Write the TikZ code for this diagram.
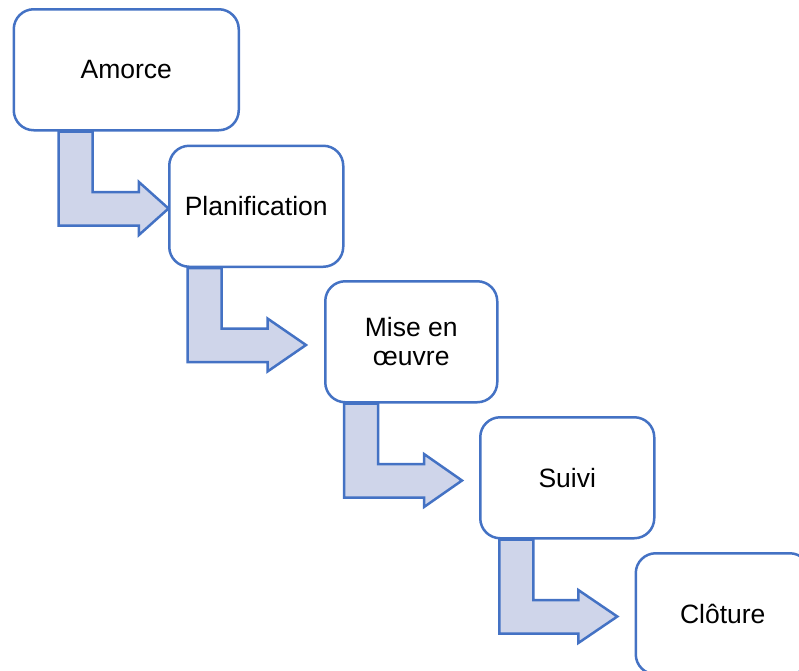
\documentclass[tikz,border=0pt]{standalone}
\usepackage{fontspec}
\setmainfont{Liberation Sans}
\usetikzlibrary{calc,backgrounds}
\definecolor{flowblue}{HTML}{4472C4}
\definecolor{flowfill}{HTML}{CFD5EA}
\tikzset{
  stage/.style={draw=flowblue, line width=2.5pt, fill=white, rounded corners=20pt,
    anchor=north west, minimum height=121pt, inner sep=2pt, align=center,
    font=\fontsize{26.5}{28.5}\selectfont},
  bentarrow/.style={draw=flowblue, fill=flowfill, line width=2.5pt, line join=miter}
}
% bent block arrow hanging under a stage box
% #1 source node, #2 stem offset from its left side, #3 head base, #4 tip
\newcommand\bentflow[4]{%
  \draw[bentarrow] ($(#1.south west)+(#2,0)$) coordinate (p)
    -- ($(p)+(34,0)$) -- ($(p)+(34,60.5)$) -- ($(p)+(#3,60.5)$)
    -- ($(p)+(#3,50.5)$) -- ($(p)+(#4,77)$) -- ($(p)+(#3,103.5)$)
    -- ($(p)+(#3,94)$) -- ($(p)+(0,94)$) -- cycle;}
\begin{document}
\begin{tikzpicture}[x=1pt,y=-1pt]
  \useasboundingbox (0,0) rectangle (799,670);
  \node[stage, minimum width=225pt] (amorce) at (12.5,8) {Amorce};
  \node[stage, minimum width=174pt] (planif) at (168,144.5) {Planification};
  \node[stage, minimum width=172pt] (mise) at (324,280) {Mise en\\œuvre};
  \node[stage, minimum width=174pt] (suivi) at (479,416) {Suivi};
  \node[stage, minimum width=174pt] (cloture) at (634.5,552) {Clôture};
  \begin{pgfonlayer}{background}
    \bentflow{amorce}{46}{80.4}{110}
    \bentflow{planif}{19.5}{80}{118.5}
    \bentflow{mise}{20}{80}{118}
    \bentflow{suivi}{20.3}{79}{118}
  \end{pgfonlayer}
\end{tikzpicture}
\end{document}
